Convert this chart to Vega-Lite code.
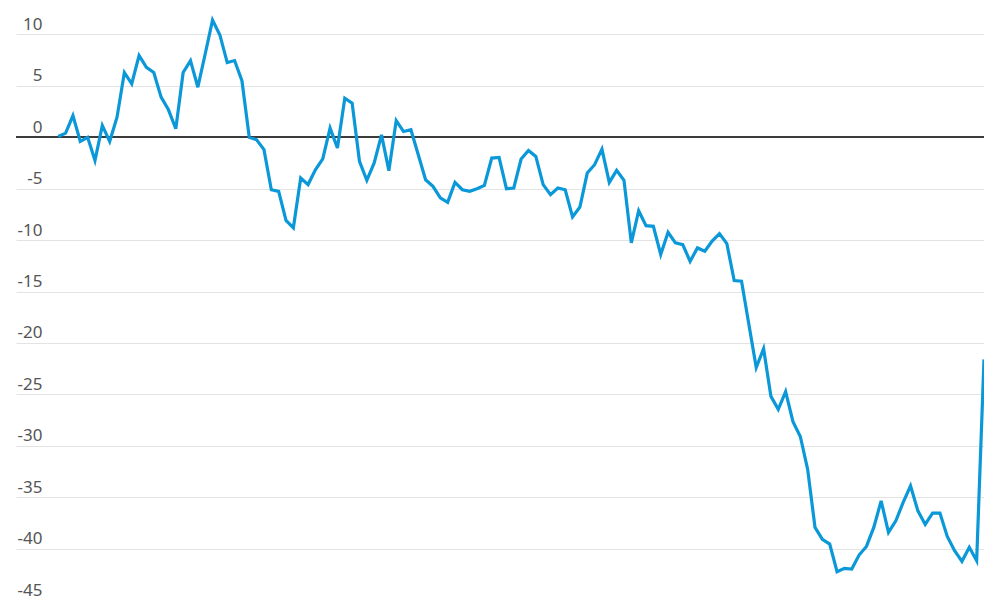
{
  "$schema": "https://vega.github.io/schema/vega-lite/v6.json",
  "autosize": {"type": "none"},
  "padding": {"left": 16, "top": 0, "right": 0, "bottom": 0},
  "width": 968,
  "height": 600,
  "background": "white",
  "config": {"view": {"stroke": null}},
  "data": {"values": [
    {"i":0,"v":0.08},{"i":1,"v":0.4},{"i":2,"v":2.1},{"i":3,"v":-0.4},{"i":4,"v":0.0},
    {"i":5,"v":-2.25},{"i":6,"v":1.15},{"i":7,"v":-0.4},{"i":8,"v":1.95},{"i":9,"v":6.3},
    {"i":10,"v":5.2},{"i":11,"v":7.95},{"i":12,"v":6.8},{"i":13,"v":6.3},{"i":14,"v":3.9},
    {"i":15,"v":2.67},{"i":16,"v":0.83},{"i":17,"v":6.3},{"i":18,"v":7.45},{"i":19,"v":4.87},
    {"i":20,"v":8.1},{"i":21,"v":11.4},{"i":22,"v":9.95},{"i":23,"v":7.26},{"i":24,"v":7.46},
    {"i":25,"v":5.5},{"i":26,"v":0.0},{"i":27,"v":-0.25},{"i":28,"v":-1.2},{"i":29,"v":-5.1},
    {"i":30,"v":-5.26},{"i":31,"v":-8.08},{"i":32,"v":-8.8},{"i":33,"v":-3.96},{"i":34,"v":-4.6},
    {"i":35,"v":-3.16},{"i":36,"v":-2.09},{"i":37,"v":0.89},{"i":38,"v":-1.05},{"i":39,"v":3.8},
    {"i":40,"v":3.32},{"i":41,"v":-2.35},{"i":42,"v":-4.19},{"i":43,"v":-2.5},{"i":44,"v":0.24},
    {"i":45,"v":-3.25},{"i":46,"v":1.63},{"i":47,"v":0.56},{"i":48,"v":0.73},{"i":49,"v":-1.7},
    {"i":50,"v":-4.13},{"i":51,"v":-4.77},{"i":52,"v":-5.9},{"i":53,"v":-6.33},{"i":54,"v":-4.39},
    {"i":55,"v":-5.1},{"i":56,"v":-5.26},{"i":57,"v":-5.0},{"i":58,"v":-4.68},{"i":59,"v":-2.02},
    {"i":60,"v":-1.96},{"i":61,"v":-5.0},{"i":62,"v":-4.93},{"i":63,"v":-2.12},{"i":64,"v":-1.28},
    {"i":65,"v":-1.86},{"i":66,"v":-4.6},{"i":67,"v":-5.58},{"i":68,"v":-4.93},{"i":69,"v":-5.1},
    {"i":70,"v":-7.75},{"i":71,"v":-6.78},{"i":72,"v":-3.48},{"i":73,"v":-2.67},{"i":74,"v":-1.15},
    {"i":75,"v":-4.39},{"i":76,"v":-3.22},{"i":77,"v":-4.19},{"i":78,"v":-10.27},{"i":79,"v":-7.14},
    {"i":80,"v":-8.6},{"i":81,"v":-8.66},{"i":82,"v":-11.4},{"i":83,"v":-9.24},{"i":84,"v":-10.27},
    {"i":85,"v":-10.44},{"i":86,"v":-12.06},{"i":87,"v":-10.76},{"i":88,"v":-11.08},{"i":89,"v":-10.1},
    {"i":90,"v":-9.37},{"i":91,"v":-10.34},{"i":92,"v":-13.93},{"i":93,"v":-14.0},{"i":94,"v":-18.2},
    {"i":95,"v":-22.4},{"i":96,"v":-20.56},{"i":97,"v":-25.2},{"i":98,"v":-26.46},{"i":99,"v":-24.74},
    {"i":100,"v":-27.65},{"i":101,"v":-29.1},{"i":102,"v":-32.3},{"i":103,"v":-37.94},{"i":104,"v":-39.1},
    {"i":105,"v":-39.56},{"i":106,"v":-42.25},{"i":107,"v":-41.92},{"i":108,"v":-41.99},{"i":109,"v":-40.63},
    {"i":110,"v":-39.79},{"i":111,"v":-37.94},{"i":112,"v":-35.36},{"i":113,"v":-38.43},{"i":114,"v":-37.3},
    {"i":115,"v":-35.5},{"i":116,"v":-33.9},{"i":117,"v":-36.33},{"i":118,"v":-37.65},{"i":119,"v":-36.55},
    {"i":120,"v":-36.55},{"i":121,"v":-38.82},{"i":122,"v":-40.21},{"i":123,"v":-41.24},{"i":124,"v":-39.88},
    {"i":125,"v":-41.18},{"i":126,"v":-21.6}
  ]},
  "layer": [
    {
      "mark": {"type": "rule", "color": "#3c3c3c", "strokeWidth": 1.6},
      "encoding": {
        "y": {"datum": 0, "type": "quantitative", "scale": {"domain": [-45, 13.35], "nice": false, "zero": false}}
      }
    },
    {
      "mark": {"type": "line", "color": "#0b98d8", "strokeWidth": 3.2, "strokeJoin": "miter", "strokeMiterLimit": 4},
      "encoding": {
        "x": {"field": "i", "type": "quantitative", "axis": null, "scale": {"domain": [-5.75, 126], "nice": false, "zero": false}},
        "y": {
          "field": "v", "type": "quantitative",
          "scale": {"domain": [-45, 13.35], "nice": false, "zero": false},
          "axis": {
            "title": null,
            "values": [-45, -40, -35, -30, -25, -20, -15, -10, -5, 0, 5, 10],
            "domain": false,
            "ticks": false,
            "tickSize": 0,
            "grid": true,
            "gridColor": "#e3e3e3",
            "gridWidth": 1.2,
            "labelAlign": "right",
            "labelBaseline": "alphabetic",
            "labelPadding": -26,
            "labelOffset": -5,
            "labelFlush": false,
            "labelOverlap": false,
            "labelBound": false,
            "labelFont": "Noto Sans",
            "labelFontSize": 17,
            "labelColor": "#555555",
            "labelExpr": "datum.value + ''"
          }
        }
      }
    }
  ]
}
